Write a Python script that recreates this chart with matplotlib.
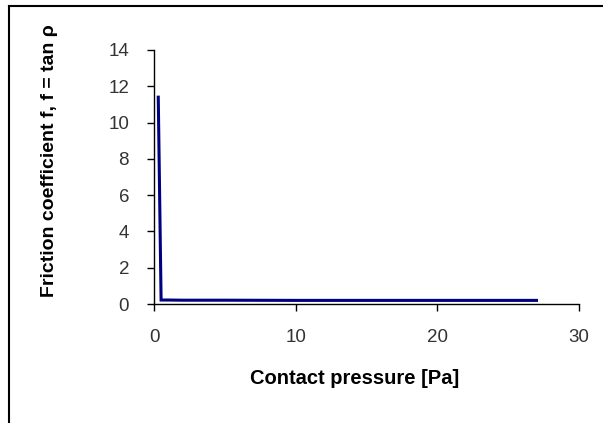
import matplotlib
matplotlib.use("Agg")
import matplotlib.pyplot as plt
from matplotlib.lines import Line2D

plt.rcParams['font.family'] = ['Liberation Sans', 'DejaVu Sans']

pressure = [0.3, 0.5, 1, 2, 5, 10, 15, 20, 27]
friction = [11.4, 0.22, 0.22, 0.21, 0.21, 0.2, 0.2, 0.2, 0.2]
xticks = [0, 10, 20, 30]
yticks = [0, 2, 4, 6, 8, 10, 12, 14]

fig = plt.figure(figsize=(6.03, 4.23), dpi=100)
ax = fig.add_axes([0.2554, 0.2813, 0.7048, 0.6005])
ax.plot(pressure, friction, color="#000080", lw=2.2, solid_joinstyle="miter")

ax.set_xlim(0, 30)
ax.set_ylim(0, 14)
ax.set_xticks(xticks)
ax.set_yticks(yticks)
ax.spines['top'].set_visible(False)
ax.spines['right'].set_visible(False)
for s in ['left', 'bottom']:
    ax.spines[s].set_linewidth(1.0)
ax.tick_params(axis='both', length=5, width=1, labelsize=13.5, labelcolor="#333333")
ax.tick_params(axis='x', pad=13)
ax.tick_params(axis='y', pad=13)

ax.set_xlabel("Contact pressure [Pa]", fontsize=14.5, fontweight="bold")
ax.set_ylabel("Friction coefficient f, f = tan ρ", fontsize=14, fontweight="bold")
ax.xaxis.set_label_coords(0.473, -0.256)
ax.yaxis.set_label_coords(-0.226, 0.565)

# outer frame (top and left edges only visible)
fig.add_artist(Line2D([9 / 603, 9 / 603], [0, 1 - 6 / 423], color="black", lw=1.5,
                      transform=fig.transFigure))
fig.add_artist(Line2D([9 / 603, 1], [1 - 6 / 423, 1 - 6 / 423], color="black", lw=1.5,
                      transform=fig.transFigure))

plt.savefig("out.png", dpi=100)
